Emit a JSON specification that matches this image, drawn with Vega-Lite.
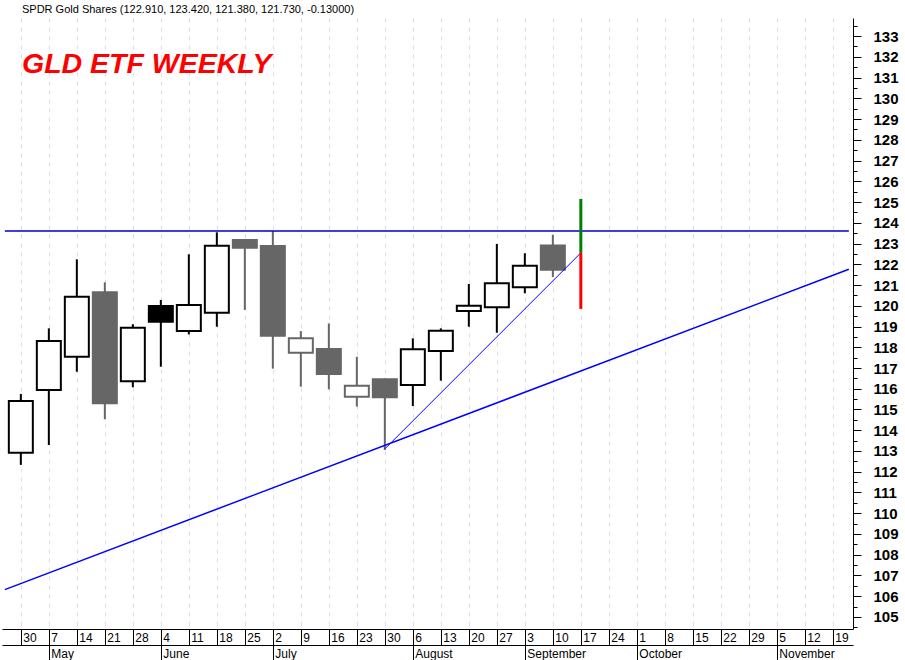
{
  "$schema": "https://vega.github.io/schema/vega-lite/v6.json",
  "width": 851,
  "height": 611,
  "autosize": "none",
  "padding": {"left": 2, "top": 18, "right": 52, "bottom": 31},
  "background": "white",
  "title": {
    "text": "SPDR Gold Shares (122.910, 123.420, 121.380, 121.730, -0.13000)",
    "subtitle": "GLD ETF WEEKLY",
    "anchor": "start",
    "frame": "group",
    "dx": 20,
    "offset": -60,
    "font": "Liberation Sans",
    "fontSize": 11,
    "fontWeight": "normal",
    "color": "#000000",
    "subtitleFont": "Liberation Sans",
    "subtitleFontSize": 28.5,
    "subtitleFontWeight": "bold",
    "subtitleFontStyle": "italic",
    "subtitleColor": "#ff0000",
    "subtitlePadding": 35
  },
  "config": {"view": {"stroke": null}},
  "datasets": {
    "candles": [
      {"date": "2010-04-30", "open": 112.92, "high": 115.75, "low": 112.33, "close": 115.41, "kind": "upBlack"},
      {"date": "2010-05-07", "open": 115.94, "high": 118.91, "low": 113.29, "close": 118.30, "kind": "upBlack"},
      {"date": "2010-05-14", "open": 117.54, "high": 122.24, "low": 116.82, "close": 120.44, "kind": "upBlack"},
      {"date": "2010-05-21", "open": 120.65, "high": 121.13, "low": 114.53, "close": 115.30, "kind": "downGray"},
      {"date": "2010-05-28", "open": 116.36, "high": 119.11, "low": 116.07, "close": 118.94, "kind": "upBlack"},
      {"date": "2010-06-04", "open": 119.99, "high": 120.28, "low": 117.06, "close": 119.23, "kind": "downBlack"},
      {"date": "2010-06-11", "open": 118.78, "high": 122.48, "low": 118.62, "close": 120.04, "kind": "upBlack"},
      {"date": "2010-06-18", "open": 119.66, "high": 123.54, "low": 118.99, "close": 122.89, "kind": "upBlack"},
      {"date": "2010-06-25", "open": 123.17, "high": 123.20, "low": 119.80, "close": 122.80, "kind": "downGray"},
      {"date": "2010-07-02", "open": 122.88, "high": 123.60, "low": 116.97, "close": 118.56, "kind": "downGray"},
      {"date": "2010-07-09", "open": 117.74, "high": 118.78, "low": 116.10, "close": 118.43, "kind": "upGray"},
      {"date": "2010-07-16", "open": 117.92, "high": 119.15, "low": 115.97, "close": 116.71, "kind": "downGray"},
      {"date": "2010-07-23", "open": 115.62, "high": 117.54, "low": 115.14, "close": 116.15, "kind": "upGray"},
      {"date": "2010-07-30", "open": 116.46, "high": 116.50, "low": 113.05, "close": 115.59, "kind": "downGray"},
      {"date": "2010-08-06", "open": 116.18, "high": 118.43, "low": 115.17, "close": 117.90, "kind": "upBlack"},
      {"date": "2010-08-13", "open": 117.82, "high": 118.91, "low": 116.39, "close": 118.80, "kind": "upBlack"},
      {"date": "2010-08-20", "open": 119.75, "high": 121.05, "low": 118.99, "close": 120.00, "kind": "upBlack"},
      {"date": "2010-08-27", "open": 119.93, "high": 122.98, "low": 118.70, "close": 121.08, "kind": "upBlack"},
      {"date": "2010-09-03", "open": 120.89, "high": 122.53, "low": 120.60, "close": 121.93, "kind": "upBlack"},
      {"date": "2010-09-10", "open": 122.91, "high": 123.42, "low": 121.38, "close": 121.73, "kind": "downGray"}
    ],
    "resistance": [
      {"date": "2010-04-26", "v": 123.6},
      {"date": "2010-11-23", "v": 123.6}
    ],
    "trend": [
      {"date": "2010-04-26", "v": 106.32},
      {"date": "2010-11-23", "v": 121.76}
    ],
    "steep": [
      {"date": "2010-07-30", "v": 113.1},
      {"date": "2010-09-17", "v": 122.55}
    ],
    "signal": [
      {"date": "2010-09-17", "lo": 122.55, "hi": 125.15, "dir": "up"},
      {"date": "2010-09-17", "lo": 119.85, "hi": 122.55, "dir": "down"}
    ]
  },
  "layer": [
    {
      "data": {"name": "candles"},
      "mark": {"type": "rule", "strokeWidth": 2},
      "encoding": {
        "x": {
          "field": "date", "type": "temporal",
          "scale": {"type": "utc", "domain": [{"year": 2010, "month": 4, "date": 26, "hours": 13, "utc": true}, {"year": 2010, "month": 11, "date": 22, "hours": 19, "utc": true}]},
          "axis": {
            "orient": "bottom",
            "title": null,
            "values": [
              {"year": 2010, "month": 4, "date": 30, "utc": true},
              {"year": 2010, "month": 5, "date": 7, "utc": true},
              {"year": 2010, "month": 5, "date": 14, "utc": true},
              {"year": 2010, "month": 5, "date": 21, "utc": true},
              {"year": 2010, "month": 5, "date": 28, "utc": true},
              {"year": 2010, "month": 6, "date": 4, "utc": true},
              {"year": 2010, "month": 6, "date": 11, "utc": true},
              {"year": 2010, "month": 6, "date": 18, "utc": true},
              {"year": 2010, "month": 6, "date": 25, "utc": true},
              {"year": 2010, "month": 7, "date": 2, "utc": true},
              {"year": 2010, "month": 7, "date": 9, "utc": true},
              {"year": 2010, "month": 7, "date": 16, "utc": true},
              {"year": 2010, "month": 7, "date": 23, "utc": true},
              {"year": 2010, "month": 7, "date": 30, "utc": true},
              {"year": 2010, "month": 8, "date": 6, "utc": true},
              {"year": 2010, "month": 8, "date": 13, "utc": true},
              {"year": 2010, "month": 8, "date": 20, "utc": true},
              {"year": 2010, "month": 8, "date": 27, "utc": true},
              {"year": 2010, "month": 9, "date": 3, "utc": true},
              {"year": 2010, "month": 9, "date": 10, "utc": true},
              {"year": 2010, "month": 9, "date": 17, "utc": true},
              {"year": 2010, "month": 9, "date": 24, "utc": true},
              {"year": 2010, "month": 10, "date": 1, "utc": true},
              {"year": 2010, "month": 10, "date": 8, "utc": true},
              {"year": 2010, "month": 10, "date": 15, "utc": true},
              {"year": 2010, "month": 10, "date": 22, "utc": true},
              {"year": 2010, "month": 10, "date": 29, "utc": true},
              {"year": 2010, "month": 11, "date": 5, "utc": true},
              {"year": 2010, "month": 11, "date": 12, "utc": true},
              {"year": 2010, "month": 11, "date": 19, "utc": true}
            ],
            "labelExpr": "utcFormat(datum.value, '%-d')",
            "labelAlign": "left",
            "labelOffset": 2,
            "labelBaseline": "alphabetic",
            "labelPadding": -4,
            "labelFont": "Liberation Sans",
            "labelFontSize": 12,
            "labelColor": "#000000",
            "labelOverlap": false,
            "labelFlush": false,
            "labelBound": false,
            "tickSize": 16,
            "tickColor": "#000000",
            "tickWidth": 1,
            "domainColor": "#000000",
            "domainWidth": 1,
            "grid": true,
            "gridColor": "#dcdcf0",
            "gridDash": [4, 5],
            "gridWidth": 1
          }
        },
        "y": {
          "field": "low", "type": "quantitative",
          "scale": {"domain": [104.42, 133.87], "nice": false, "zero": false},
          "axis": {
            "orient": "right",
            "title": null,
            "values": [105, 106, 107, 108, 109, 110, 111, 112, 113, 114, 115, 116, 117, 118, 119, 120, 121, 122, 123, 124, 125, 126, 127, 128, 129, 130, 131, 132, 133],
            "format": "d",
            "grid": false,
            "tickSize": 8,
            "tickColor": "#000000",
            "domainColor": "#000000",
            "domainWidth": 1,
            "labelFont": "Liberation Sans",
            "labelFontSize": 15,
            "labelFontWeight": "bold",
            "labelColor": "#000000",
            "labelPadding": 12,
            "labelAlign": "left",
            "labelBaseline": "middle",
            "labelOverlap": false,
            "labelFlush": false
          }
        },
        "y2": {"field": "high"},
        "stroke": {
          "field": "kind", "type": "nominal",
          "scale": {"domain": ["upBlack", "upGray", "downBlack", "downGray"], "range": ["#000000", "#666666", "#000000", "#666666"]},
          "legend": null
        }
      }
    },
    {
      "data": {"name": "candles"},
      "mark": {"type": "bar", "size": 24, "strokeWidth": 2},
      "encoding": {
        "x": {"field": "date", "type": "temporal", "scale": {"type": "utc", "domain": [{"year": 2010, "month": 4, "date": 26, "hours": 13, "utc": true}, {"year": 2010, "month": 11, "date": 22, "hours": 19, "utc": true}]}, "axis": null},
        "y": {"field": "open", "type": "quantitative", "scale": {"domain": [104.42, 133.87], "nice": false, "zero": false}, "axis": null},
        "y2": {"field": "close"},
        "fill": {
          "field": "kind", "type": "nominal",
          "scale": {"domain": ["upBlack", "upGray", "downBlack", "downGray"], "range": ["#ffffff", "#ffffff", "#000000", "#666666"]},
          "legend": null
        },
        "stroke": {
          "field": "kind", "type": "nominal",
          "scale": {"domain": ["upBlack", "upGray", "downBlack", "downGray"], "range": ["#000000", "#666666", "#000000", "#666666"]},
          "legend": null
        }
      }
    },
    {
      "data": {"name": "resistance"},
      "mark": {"type": "line", "stroke": "#0000cc", "strokeWidth": 1.5, "clip": true},
      "encoding": {
        "x": {"field": "date", "type": "temporal", "scale": {"type": "utc", "domain": [{"year": 2010, "month": 4, "date": 26, "hours": 13, "utc": true}, {"year": 2010, "month": 11, "date": 22, "hours": 19, "utc": true}]}, "axis": null},
        "y": {"field": "v", "type": "quantitative", "scale": {"domain": [104.42, 133.87], "nice": false, "zero": false}, "axis": null}
      }
    },
    {
      "data": {"name": "trend"},
      "mark": {"type": "line", "stroke": "#0000ff", "strokeWidth": 1.5, "clip": true},
      "encoding": {
        "x": {
          "field": "date", "type": "temporal",
          "scale": {"type": "utc", "domain": [{"year": 2010, "month": 4, "date": 26, "hours": 13, "utc": true}, {"year": 2010, "month": 11, "date": 22, "hours": 19, "utc": true}]},
          "axis": {
            "orient": "bottom",
            "offset": 16,
            "title": null,
            "values": [
              {"year": 2010, "month": 5, "date": 7, "utc": true},
              {"year": 2010, "month": 6, "date": 4, "utc": true},
              {"year": 2010, "month": 7, "date": 2, "utc": true},
              {"year": 2010, "month": 8, "date": 6, "utc": true},
              {"year": 2010, "month": 9, "date": 3, "utc": true},
              {"year": 2010, "month": 10, "date": 1, "utc": true},
              {"year": 2010, "month": 11, "date": 5, "utc": true}
            ],
            "labelExpr": "utcFormat(datum.value, '%B')",
            "labelAlign": "left",
            "labelOffset": 2,
            "labelBaseline": "alphabetic",
            "labelPadding": -4,
            "labelFont": "Liberation Sans",
            "labelFontSize": 12,
            "labelColor": "#000000",
            "labelOverlap": false,
            "labelFlush": false,
            "labelBound": false,
            "tickSize": 16,
            "tickColor": "#000000",
            "tickWidth": 1,
            "domainColor": "#000000",
            "domainWidth": 1,
            "grid": false
          }
        },
        "y": {
          "field": "v", "type": "quantitative",
          "scale": {"domain": [104.42, 133.87], "nice": false, "zero": false},
          "axis": {
            "orient": "right",
            "title": null,
            "values": [104.5, 105.5, 106.5, 107.5, 108.5, 109.5, 110.5, 111.5, 112.5, 113.5, 114.5, 115.5, 116.5, 117.5, 118.5, 119.5, 120.5, 121.5, 122.5, 123.5, 124.5, 125.5, 126.5, 127.5, 128.5, 129.5, 130.5, 131.5, 132.5, 133.5],
            "labels": false,
            "domain": false,
            "grid": false,
            "tickSize": 4,
            "tickColor": "#000000"
          }
        }
      }
    },
    {
      "data": {"name": "steep"},
      "mark": {"type": "line", "stroke": "#0000ff", "strokeWidth": 1, "clip": true},
      "encoding": {
        "x": {"field": "date", "type": "temporal", "scale": {"type": "utc", "domain": [{"year": 2010, "month": 4, "date": 26, "hours": 13, "utc": true}, {"year": 2010, "month": 11, "date": 22, "hours": 19, "utc": true}]}, "axis": null},
        "y": {"field": "v", "type": "quantitative", "scale": {"domain": [104.42, 133.87], "nice": false, "zero": false}, "axis": null}
      }
    },
    {
      "data": {"name": "signal"},
      "mark": {"type": "rule", "strokeWidth": 3},
      "encoding": {
        "x": {"field": "date", "type": "temporal", "scale": {"type": "utc", "domain": [{"year": 2010, "month": 4, "date": 26, "hours": 13, "utc": true}, {"year": 2010, "month": 11, "date": 22, "hours": 19, "utc": true}]}, "axis": null},
        "y": {"field": "lo", "type": "quantitative", "scale": {"domain": [104.42, 133.87], "nice": false, "zero": false}, "axis": null},
        "y2": {"field": "hi"},
        "color": {
          "field": "dir", "type": "nominal",
          "scale": {"domain": ["up", "down"], "range": ["#008000", "#ff0000"]},
          "legend": null
        }
      }
    }
  ],
  "resolve": {"axis": {"x": "independent", "y": "independent"}}
}
